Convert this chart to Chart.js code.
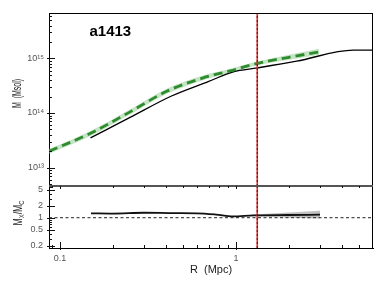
<!DOCTYPE html>
<html>
<head>
<meta charset="utf-8">
<script src="https://cdn.jsdelivr.net/npm/chart.js@4.4.1/dist/chart.umd.min.js"></script>
<style>
  html, body { margin: 0; padding: 0; background: #fff; }
  #wrap { width: 385px; height: 289px; position: relative; }
</style>
</head>
<body>
<div id="wrap"><canvas id="c" width="385" height="289"></canvas></div>
<script>
// axis ranges
const radiusRange = [0.0866, 6.0];
const massRange = [4.6e12, 6.8e15];
const ratioRange = [0.175, 6.2];

// tick values / labels
const radiusTicks = [0.1, 1];
const radiusTickLabels = ['0.1', '1'];
const radiusMinor = [0.09, 0.2, 0.3, 0.4, 0.5, 0.6, 0.7, 0.8, 0.9, 2, 3, 4, 5];
const massTicks = [1e13, 1e14, 1e15];
const massTickLabels = ['10¹³', '10¹⁴', '10¹⁵'];
const massMinor = [5e12, 6e12, 7e12, 8e12, 9e12, 2e13, 3e13, 4e13, 5e13, 6e13, 7e13, 8e13, 9e13,
  2e14, 3e14, 4e14, 5e14, 6e14, 7e14, 8e14, 9e14, 2e15, 3e15, 4e15, 5e15, 6e15];
const ratioTicks = [0.2, 0.5, 1, 2, 5];
const ratioTickLabels = ['0.2', '0.5', '1', '2', '5'];
const ratioMinor = [0.3, 0.4, 0.6, 0.7, 0.8, 0.9, 3, 4, 6];

// X-ray (hydrostatic) mass profile - black
const hydroR = [0.149, 0.25, 0.43, 0.7, 0.965, 1.32, 2.21, 4.64, 6.0];
const hydroM = [3.5e13, 8.3e13, 2.05e14, 3.8e14, 5.7e14, 6.7e14, 8.9e14, 1.42e15, 1.42e15];

// comparison profile - green dashed with band
const lensR = [0.0866, 0.148, 0.25, 0.404, 0.65, 0.924, 1.32, 2.0, 2.97];
const lensM = [2.0e13, 4.2e13, 1.05e14, 2.5e14, 4.4e14, 5.9e14, 8.1e14, 1.05e15, 1.32e15];
const lensLow = [1.8e13, 3.75e13, 0.94e14, 2.25e14, 4.0e14, 5.45e14, 7.5e14, 0.95e15, 1.17e15];
const lensHigh = [2.2e13, 4.65e13, 1.16e14, 2.78e14, 4.85e14, 6.45e14, 8.8e14, 1.17e15, 1.5e15];

// mass ratio M_X / M_C
const ratioR = [0.15, 0.2, 0.3, 0.45, 0.6, 0.77, 0.96, 1.26, 2.0, 3.0];
const ratioV = [1.29, 1.27, 1.33, 1.3, 1.29, 1.2, 1.08, 1.15, 1.17, 1.19];
const ratioBandR = [1.2, 2.0, 3.0];
const ratioLow = [1.1, 1.0, 0.95];
const ratioHigh = [1.18, 1.35, 1.5];

const unity = 1;
const r500 = 1.32;
const clusterName = 'a1413';

const pts = (xs, ys) => xs.map((x, i) => ({ x: x, y: ys[i] }));
const labelFor = (ticks, labels) => (v) => {
  const i = ticks.findIndex(t => Math.abs(t - v) / t < 1e-6);
  return i >= 0 ? labels[i] : '';
};

const tickFont = { family: 'Liberation Sans, Arial, sans-serif', size: 9 };

const framePlugin = {
  id: 'frame',
  afterDatasetsDraw(chart) {
    const ctx = chart.ctx;
    const a = chart.chartArea;
    const x = chart.scales.x, yM = chart.scales.yM, yR = chart.scales.yR;
    ctx.save();
    ctx.strokeStyle = '#000';
    ctx.lineWidth = 1;
    ctx.beginPath();
    ctx.moveTo(a.left, a.top + 0.5); ctx.lineTo(a.right, a.top + 0.5);
    ctx.moveTo(a.right - 0.5, a.top); ctx.lineTo(a.right - 0.5, a.bottom);
    ctx.stroke();
    // panel divider
    ctx.strokeStyle = '#555';
    ctx.lineWidth = 2;
    ctx.beginPath();
    ctx.moveTo(a.left, yM.bottom); ctx.lineTo(a.right, yM.bottom);
    ctx.stroke();

    ctx.strokeStyle = '#111';
    ctx.lineWidth = 1;
    ctx.beginPath();
    const yTicks = (scale, major, minor) => {
      major.forEach(v => {
        const p = Math.round(scale.getPixelForValue(v)) + 0.5;
        ctx.moveTo(a.left - 2, p); ctx.lineTo(a.left + 6, p);
      });
      minor.forEach(v => {
        if (v < scale.min || v > scale.max) return;
        const p = Math.round(scale.getPixelForValue(v)) + 0.5;
        ctx.moveTo(a.left, p); ctx.lineTo(a.left + 3, p);
      });
    };
    yTicks(yM, massTicks, massMinor);
    yTicks(yR, ratioTicks, ratioMinor);
    radiusTicks.forEach(v => {
      const p = Math.round(x.getPixelForValue(v)) + 0.5;
      ctx.moveTo(p, a.bottom + 2); ctx.lineTo(p, a.bottom - 6);
      ctx.moveTo(p, yM.bottom); ctx.lineTo(p, yM.bottom + 3);
    });
    radiusMinor.forEach(v => {
      const p = Math.round(x.getPixelForValue(v)) + 0.5;
      ctx.moveTo(p, a.bottom); ctx.lineTo(p, a.bottom - 3);
      ctx.moveTo(p, yM.bottom); ctx.lineTo(p, yM.bottom + 2);
    });
    ctx.stroke();

    // cluster name
    ctx.fillStyle = '#000';
    ctx.font = 'bold 15px "Liberation Sans", Arial, sans-serif';
    ctx.textAlign = 'left';
    ctx.textBaseline = 'alphabetic';
    ctx.fillText(clusterName, x.getPixelForValue(0.147), yM.getPixelForValue(2.6e15));

    // y titles (squeezed like the original)
    ctx.fillStyle = '#222';
    ctx.font = '12px "Liberation Sans", Arial, sans-serif';
    ctx.save();
    ctx.translate(18, (yM.top + yM.bottom) / 2 - 6);
    ctx.rotate(-Math.PI / 2);
    ctx.scale(0.58, 1);
    ctx.textAlign = 'center';
    ctx.textBaseline = 'middle';
    ctx.fillText('M  (Msol)', 0, 0);
    ctx.restore();

    ctx.save();
    ctx.translate(19, (yR.top + yR.bottom) / 2 - 4);
    ctx.rotate(-Math.PI / 2);
    ctx.scale(0.72, 1);
    ctx.textBaseline = 'middle';
    const parts = [['M', 12, 0], ['X', 8, 3], ['/M', 12, 0], ['C', 8, 3]];
    let w = 0;
    parts.forEach(p => { ctx.font = p[1] + 'px "Liberation Sans", Arial, sans-serif'; w += ctx.measureText(p[0]).width; });
    let cx = -w / 2;
    ctx.textAlign = 'left';
    parts.forEach(p => {
      ctx.font = p[1] + 'px "Liberation Sans", Arial, sans-serif';
      ctx.fillText(p[0], cx, p[2]);
      cx += ctx.measureText(p[0]).width;
    });
    ctx.restore();
    ctx.restore();
  }
};

new Chart(document.getElementById('c'), {
  type: 'line',
  data: {
    datasets: [
      { data: pts([r500, r500], massRange), yAxisID: 'yM', borderColor: '#4a1010', borderWidth: 1, borderDash: [2, 2], order: 0 },
      { data: pts([r500, r500], ratioRange), yAxisID: 'yR', borderColor: '#4a1010', borderWidth: 1, borderDash: [2, 2], order: 0 },
      { data: pts([r500, r500], massRange), yAxisID: 'yM', borderColor: '#e8312f', borderWidth: 1.6, order: 1 },
      { data: pts([r500, r500], ratioRange), yAxisID: 'yR', borderColor: '#e8312f', borderWidth: 1.6, order: 1 },
      { data: pts(lensR, lensM), yAxisID: 'yM', borderColor: '#2e8b2e', borderWidth: 2.8, borderDash: [9, 5], cubicInterpolationMode: 'monotone', order: 2 },
      { data: pts(hydroR, hydroM), yAxisID: 'yM', borderColor: '#000', borderWidth: 1.3, cubicInterpolationMode: 'monotone', order: 3 },
      { data: pts(ratioR, ratioV), yAxisID: 'yR', borderColor: '#111', borderWidth: 1.8, cubicInterpolationMode: 'monotone', order: 3 },
      { data: pts(radiusRange, [unity, unity]), yAxisID: 'yR', borderColor: '#222', borderWidth: 1, borderDash: [3, 2.5], order: 4 },
      { data: pts(lensR, lensHigh), yAxisID: 'yM', borderWidth: 0, borderColor: 'rgba(0,0,0,0)', backgroundColor: 'rgba(150,205,150,0.55)', fill: '+1', cubicInterpolationMode: 'monotone', order: 5 },
      { data: pts(lensR, lensLow), yAxisID: 'yM', borderWidth: 0, borderColor: 'rgba(0,0,0,0)', fill: false, cubicInterpolationMode: 'monotone', order: 5 },
      { data: pts(ratioBandR, ratioHigh), yAxisID: 'yR', borderWidth: 0, borderColor: 'rgba(0,0,0,0)', backgroundColor: 'rgba(150,150,150,0.6)', fill: '+1', order: 5 },
      { data: pts(ratioBandR, ratioLow), yAxisID: 'yR', borderWidth: 0, borderColor: 'rgba(0,0,0,0)', fill: false, order: 5 }
    ]
  },
  options: {
    responsive: false,
    animation: false,
    events: [],
    elements: { point: { radius: 0 }, line: { tension: 0 } },
    layout: { padding: { top: 13, right: 12, left: 0, bottom: 0 } },
    plugins: { legend: { display: false }, tooltip: { enabled: false } },
    scales: {
      x: {
        type: 'logarithmic',
        min: radiusRange[0], max: radiusRange[1],
        afterBuildTicks: s => { s.ticks = radiusTicks.map(v => ({ value: v })); },
        afterFit: s => { s.height = 41; },
        grid: { drawOnChartArea: false, drawTicks: false },
        border: { display: true, color: '#000', width: 1 },
        ticks: { autoSkip: false, maxRotation: 0, padding: 5, color: '#555', font: tickFont, callback: labelFor(radiusTicks, radiusTickLabels) },
        title: { display: true, text: 'R  (Mpc)', color: '#222', font: { family: 'Liberation Sans, Arial, sans-serif', size: 11 }, padding: { top: 0, bottom: 12 } }
      },
      yR: {
        type: 'logarithmic',
        position: 'left',
        stack: 'panels',
        stackWeight: 62,
        min: ratioRange[0], max: ratioRange[1],
        afterBuildTicks: s => { s.ticks = ratioTicks.map(v => ({ value: v })); },
        afterFit: s => { s.width = 49; },
        grid: { drawOnChartArea: false, drawTicks: false },
        border: { display: true, color: '#000', width: 1 },
        ticks: { autoSkip: false, padding: 6, color: '#555', font: tickFont, callback: labelFor(ratioTicks, ratioTickLabels) }
      },
      yM: {
        type: 'logarithmic',
        position: 'left',
        stack: 'panels',
        stackWeight: 173,
        min: massRange[0], max: massRange[1],
        afterBuildTicks: s => { s.ticks = massTicks.map(v => ({ value: v })); },
        afterFit: s => { s.width = 49; },
        grid: { drawOnChartArea: false, drawTicks: false },
        border: { display: true, color: '#000', width: 1 },
        ticks: { autoSkip: false, padding: 5, color: '#555', font: tickFont, callback: labelFor(massTicks, massTickLabels) }
      }
    }
  },
  plugins: [framePlugin]
});
</script>
</body>
</html>
